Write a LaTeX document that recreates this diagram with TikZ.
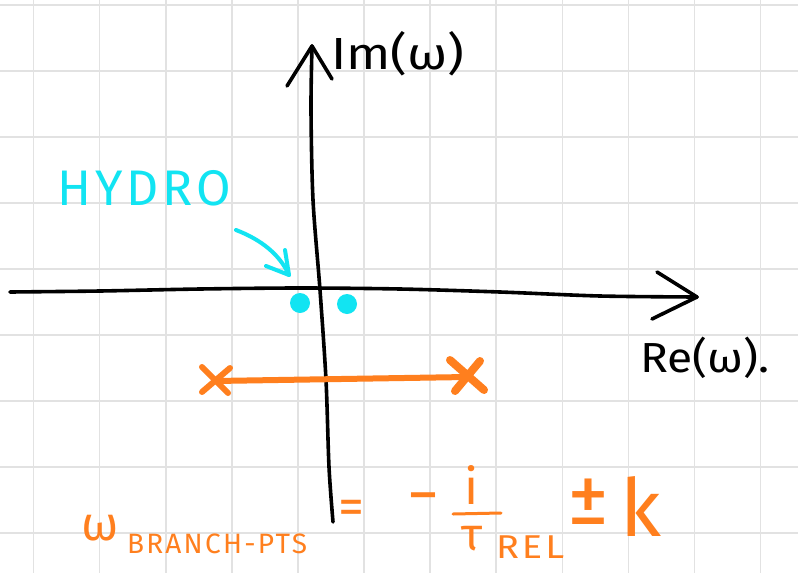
\documentclass[tikz,border=0pt]{standalone}
\usepackage{fontspec}
\setmainfont{Fira Sans}
\newfontfamily\hand{Fira Sans}
\newfontfamily\handsp[LetterSpace=8]{Fira Sans}
\definecolor{gridc}{RGB}{226,226,226}
\definecolor{hcyan}{RGB}{18,228,242}
\definecolor{horange}{RGB}{255,127,30}
\tikzset{
  gridline/.style={draw=gridc, line width=1.6pt},
  axisline/.style={draw=black, line width=3.6pt, line cap=round, line join=round},
  cyanline/.style={draw=hcyan, line width=4pt, line cap=round, line join=round},
  orangeline/.style={draw=horange, line width=6pt, line cap=round, line join=round},
  txt/.style={inner sep=0pt, outer sep=0pt},
  otxt/.style={inner sep=0pt, outer sep=0pt, text=horange},
}
\begin{document}
\begin{tikzpicture}[x=1pt,y=-1pt]
\useasboundingbox[fill=white] (0,0) rectangle (798,573);
% grid
\foreach \k in {0,...,11} {\draw[gridline] ({33.5+66.1*\k},0) -- ({33.5+66.1*\k},573);}
\foreach \k in {0,...,8} {\draw[gridline] (0,{5+66*\k}) -- (798,{5+66*\k});}
% axes
\coordinate (vbot) at (333,522);
\coordinate (vtop) at (312,46);
\draw[axisline] plot[smooth] coordinates {(333,522) (329,467) (326,380) (320,290) (313,200) (311,110) (312,46)};
\draw[axisline] (287,86) -- (vtop) -- (332,79);
\coordinate (hleft) at (10,292);
\coordinate (hright) at (697,297);
\draw[axisline] plot[smooth] coordinates {(10,292) (100,291) (200,289) (300,288) (400,289) (500,292) (600,296) (697,297)};
\draw[axisline] (657,272) -- (hright) -- (652,319);
% axis labels
\node[txt, anchor=base west, font=\hand\fontsize{45}{45}\selectfont, xscale=1.15] (im) at (331,69) {Im(ω)};
\node[txt, anchor=base west, font=\hand\fontsize{42}{42}\selectfont, xscale=1.1] (re) at (640,372) {Re(ω).};
% hydro
\node[txt, anchor=base west, text=hcyan, font=\handsp\fontsize{50}{50}\selectfont] (hydro) at (57,205) {HYDRO};
\coordinate (hs) at (236,230);
\coordinate (ht) at (289,275);
\draw[cyanline] (hs) .. controls (262,240) and (280,255) .. (ht);
\draw[cyanline] (266,266) -- (ht) -- (285,250);
\fill[hcyan] (300,303) circle (10) coordinate (dot1);
\fill[hcyan] (347,304) circle (10) coordinate (dot2);
% branch cut
\coordinate (bl) at (215,381);
\coordinate (br) at (467,377);
\draw[orangeline] (bl) -- (br);
\draw[orangeline] (202,367) -- (228,393);
\draw[orangeline] (230,368) -- (202,392);
\draw[orangeline, line width=8pt] (450,360) -- (484,390);
\draw[orangeline, line width=8pt] (480,361) -- (455,391);
% formula
\node[otxt, anchor=base west, font=\hand\fontsize{48}{48}\selectfont] (om) at (81,540) {ω};
\node[otxt, anchor=base west, font=\handsp\fontsize{28}{28}\selectfont] (sub) at (127,553) {BRANCH-PTS};
\node[otxt, anchor=center, font=\hand\fontsize{52}{52}\selectfont] (eq) at (351,512) {=};
\node[otxt, anchor=center, font=\hand\fontsize{64}{64}\selectfont] (minus) at (423,505) {−};
\node[otxt, anchor=center, font=\hand\fontsize{50}{50}\selectfont] (inum) at (472,485) {i};
\coordinate (fl) at (453,514);
\coordinate (fr) at (501,513);
\draw[draw=horange, line width=3pt, line cap=round] (fl) -- (fr);
\node[otxt, anchor=center, font=\hand\fontsize{46}{46}\selectfont] (tau) at (472,539) {τ};
\node[otxt, anchor=base west, font=\handsp\fontsize{33}{33}\selectfont, xscale=1.15] (rel) at (496,558) {REL};
\node[otxt, anchor=center, font=\hand\fontsize{84}{84}\selectfont] (pm) at (588,502) {±};
\node[otxt, anchor=center, font=\hand\fontsize{80}{80}\selectfont] (k) at (641,506) {k};
\end{tikzpicture}
\end{document}
